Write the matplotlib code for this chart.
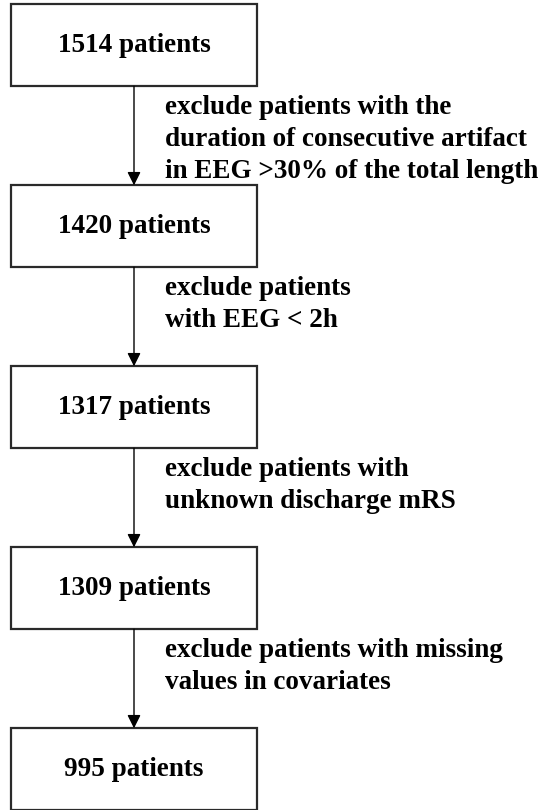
import matplotlib
matplotlib.use("Agg")
from matplotlib import pyplot
from matplotlib.patches import Rectangle, FancyArrowPatch

counts = [1514, 1420, 1317, 1309, 995]
exclusions = [
    "exclude patients with the\nduration of consecutive artifact\nin EEG >30% of the total length",
    "exclude patients\nwith EEG < 2h",
    "exclude patients with\nunknown discharge mRS",
    "exclude patients with missing\nvalues in covariates",
]

# layout in pixels
box_left, box_right = 11, 257
box_h = 82
first_top, step = 4.3, 181
line_gap = 32
font = {"family": "Liberation Serif", "weight": "bold", "size": 19.5}

fig = pyplot.figure(figsize=(5.43, 8.10), dpi=100)
ax = fig.add_axes([0, 0, 1, 1])
ax.set_xlim(0, 543)
ax.set_ylim(810, 0)
ax.axis("off")

cx = (box_left + box_right) / 2
for i, n in enumerate(counts):
    top = first_top + i * step
    ax.add_patch(Rectangle((box_left, top), box_right - box_left, box_h,
                           facecolor="white", edgecolor="#2a2a2a", linewidth=1.6))
    ax.text(cx, top + box_h / 2, f"{n} patients", ha="center", va="center", **font)

for i, txt in enumerate(exclusions):
    bottom = first_top + i * step + box_h
    next_top = first_top + (i + 1) * step
    ax.add_patch(FancyArrowPatch((cx, bottom), (cx, next_top),
                                 arrowstyle="-|>,head_length=0.8,head_width=0.4",
                                 mutation_scale=10, color="black", linewidth=1.0,
                                 shrinkA=0, shrinkB=0))
    n_lines = txt.count("\n") + 1
    # baseline of the last line (first line sits ~28px under the box)
    ax.text(165, bottom + 28 + (n_lines - 1) * line_gap, txt, ha="left",
            va="baseline", linespacing=1.38, **font)

fig.savefig("out.png", dpi=100)
